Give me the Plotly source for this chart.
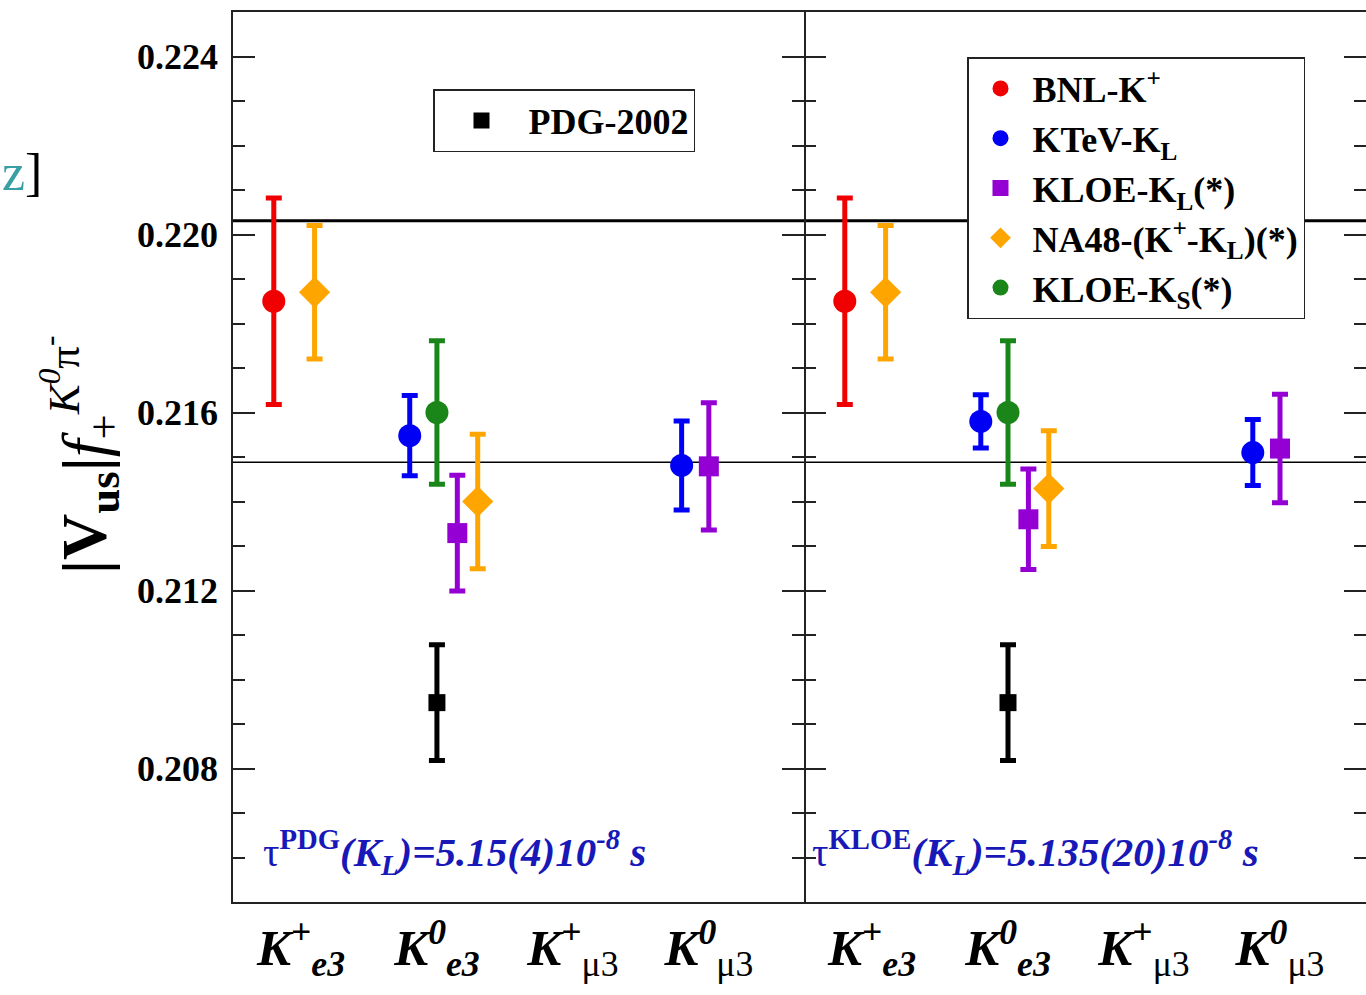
import plotly.graph_objects as go

# ---------------- data ----------------
cat_pos = [1, 2, 3, 4]
cat_labels = [
    "<b><i>K</i></b><sup><b>+</b></sup><sub><b><i>e3</i></b></sub>",
    "<b><i>K</i></b><sup><b><i>0</i></b></sup><sub><b><i>e3</i></b></sub>",
    "<b><i>K</i></b><sup><b>+</b></sup><sub>μ3</sub>",
    "<b><i>K</i></b><sup><b><i>0</i></b></sup><sub>μ3</sub>",
]
y_tick_vals = [0.208, 0.212, 0.216, 0.220, 0.224]
y_tick_text = ["0.208", "0.212", "0.216", "0.220", "0.224"]

# BNL-K+
bnl_x = [0.80]
bnl_y_pdg = [0.21850]
bnl_err_pdg = [0.00232]
bnl_y_kloe = [0.21850]
bnl_err_kloe = [0.00232]

# KTeV-KL
ktev_x = [1.80, 3.80]
ktev_y_pdg = [0.21548, 0.21481]
ktev_err_pdg = [0.00090, 0.00100]
ktev_y_kloe = [0.21580, 0.21510]
ktev_err_kloe = [0.00060, 0.00074]

# KLOE-KL(*)
kloel_x = [2.15, 4.00]
kloel_y_pdg = [0.21329, 0.21479]
kloel_err_pdg = [0.00130, 0.00143]
kloel_y_kloe = [0.21360, 0.21519]
kloel_err_kloe = [0.00113, 0.00122]

# NA48-(K+-KL)(*)
na48_x = [1.10, 2.30]
na48_y_pdg = [0.21870, 0.21400]
na48_err_pdg = [0.00150, 0.00151]
na48_y_kloe = [0.21870, 0.21429]
na48_err_kloe = [0.00150, 0.00130]

# KLOE-KS(*)
kloes_x = [2.00]
kloes_y_pdg = [0.21600]
kloes_err_pdg = [0.00161]
kloes_y_kloe = [0.21600]
kloes_err_kloe = [0.00161]

# PDG-2002
pdg_x = [2.00]
pdg_y = [0.20948]
pdg_err = [0.00130]

# horizontal reference lines
ref_line_high = 0.22031
ref_line_low = 0.21488

# ---------------- figure ----------------
W, H = 1366, 995
xl0, xm, xr = 233 / W, 804 / W, 1.0
ydom = [1 - 902 / H, 1 - 12 / H]
SERIF = "Liberation Serif"
AX = "#222222"

fig = go.Figure()

experiments = [
    ("<b>BNL-K<sup>+</sup></b>", "#F00000", "circle", 23, bnl_x,
     (bnl_y_pdg, bnl_err_pdg), (bnl_y_kloe, bnl_err_kloe)),
    ("<b>KTeV-K<sub>L</sub></b>", "#0000F5", "circle", 23, ktev_x,
     (ktev_y_pdg, ktev_err_pdg), (ktev_y_kloe, ktev_err_kloe)),
    ("<b>KLOE-K<sub>L</sub>(*)</b>", "#9400D3", "square", 20, kloel_x,
     (kloel_y_pdg, kloel_err_pdg), (kloel_y_kloe, kloel_err_kloe)),
    ("<b>NA48-(K<sup>+</sup>-K<sub>L</sub>)(*)</b>", "#FFA500", "diamond", 24, na48_x,
     (na48_y_pdg, na48_err_pdg), (na48_y_kloe, na48_err_kloe)),
    ("<b>KLOE-K<sub>S</sub>(*)</b>", "#1A861A", "circle", 23, kloes_x,
     (kloes_y_pdg, kloes_err_pdg), (kloes_y_kloe, kloes_err_kloe)),
]

for i, (name, color, sym, size, xs, pdgd, kloed) in enumerate(experiments):
    for (xa, ya, (ys, es), show) in [("x", "y", pdgd, False), ("x2", "y2", kloed, True)]:
        fig.add_trace(go.Scatter(
            x=xs, y=ys, mode="markers", name=name,
            marker=dict(color=color, symbol=sym, size=size, line=dict(width=0)),
            error_y=dict(type="data", array=es, color=color, thickness=5, width=8),
            xaxis=xa, yaxis=ya, showlegend=show, legendgroup="g%d" % i,
            legend="legend",
        ))

for xa, ya, show in [("x", "y", True), ("x2", "y2", False)]:
    fig.add_trace(go.Scatter(
        x=pdg_x, y=pdg_y, mode="markers", name="<b>PDG-2002</b>",
        marker=dict(color="black", symbol="square", size=17, line=dict(width=0)),
        error_y=dict(type="data", array=pdg_err, color="black", thickness=5, width=8),
        xaxis=xa, yaxis=ya, showlegend=show, legendgroup="pdg", legend="legend2",
    ))

# reference lines across both panels
fig.add_shape(type="line", xref="paper", yref="y", x0=xl0, x1=xr,
              y0=ref_line_high, y1=ref_line_high, line=dict(color="black", width=3), layer="below")
fig.add_shape(type="line", xref="paper", yref="y", x0=xl0, x1=xr,
              y0=ref_line_low, y1=ref_line_low, line=dict(color="black", width=1.5), layer="below")

yax_common = dict(
    range=[0.205, 0.225], tickmode="array", tickvals=y_tick_vals, ticktext=y_tick_text,
    ticks="inside", ticklen=22, tickwidth=1.5, tickcolor=AX,
    linecolor=AX, linewidth=1.5, mirror="ticks",
    showgrid=False, zeroline=False, domain=ydom,
    minor=dict(tickmode="linear", tick0=0.205, dtick=0.001, ticks="inside",
               ticklen=12, tickwidth=1.5, tickcolor=AX, showgrid=False),
)
xax_common = dict(
    tickmode="array", tickvals=cat_pos, ticktext=cat_labels, ticks="",
    showline=True, linecolor=AX, linewidth=1.5, mirror=True,
    showgrid=False, zeroline=False,
    tickfont=dict(family=SERIF, size=51, color="black"),
)

fig.update_layout(
    width=W, height=H, autosize=False,
    margin=dict(l=0, r=0, t=0, b=0),
    paper_bgcolor="white", plot_bgcolor="white",
    xaxis=dict(domain=[xl0, xm], range=[0.5, 4.7], anchor="y", **xax_common),
    xaxis2=dict(domain=[xm, xr], range=[0.5, 0.5 + 562 / 136], anchor="y2", **xax_common),
    yaxis=dict(anchor="x", showticklabels=True, ticklabelstandoff=6, showline=True,
               tickfont=dict(family=SERIF, size=36, color="black", weight="bold"),
               **yax_common),
    yaxis2=dict(anchor="x2", matches="y", showticklabels=False, showline=False, **yax_common),
    legend=dict(x=967 / W, y=1 - 57 / H, xanchor="left", yanchor="top",
                bgcolor="white", bordercolor=AX, borderwidth=1.5,
                font=dict(family=SERIF, size=36, color="black"),
                itemwidth=54, tracegroupgap=0, itemclick=False, itemdoubleclick=False),
    legend2=dict(x=433 / W, y=1 - 89 / H, xanchor="left", yanchor="top",
                 bgcolor="white", bordercolor=AX, borderwidth=1.5,
                 font=dict(family=SERIF, size=36, color="black"),
                 itemwidth=84, itemclick=False, itemdoubleclick=False),
    showlegend=True,
)

# y-axis title
fig.add_annotation(
    xref="paper", yref="paper", x=80 / W, y=1 - 455 / H, xanchor="center", yanchor="middle",
    text="<b>|V<sub>us</sub>|</b><i>f</i><sub>+</sub><sup><i>K</i><sup><i>0</i></sup>π<sup>-</sup></sup>",
    textangle=-90, showarrow=False,
    font=dict(family=SERIF, size=64, color="black"),
)

# lifetime annotations
BLUE = "#1818B8"
fig.add_annotation(
    xref="paper", yref="paper", x=261 / W, y=1 - 852 / H, xanchor="left", yanchor="middle",
    text="τ<sup><b>PDG</b></sup><b><i>(K<sub>L</sub>)=5.15(4)10<sup>-8</sup> s</i></b>",
    showarrow=False, font=dict(family=SERIF, size=41, color=BLUE),
)
fig.add_annotation(
    xref="paper", yref="paper", x=810 / W, y=1 - 852 / H, xanchor="left", yanchor="middle",
    text="τ<sup><b>KLOE</b></sup><b><i>(K<sub>L</sub>)=5.135(20)10<sup>-8</sup> s</i></b>",
    showarrow=False, font=dict(family=SERIF, size=41, color=BLUE),
)

# cropped fragment at top-left edge
fig.add_annotation(
    xref="paper", yref="paper", x=0, y=1 - 172 / H, xanchor="left", yanchor="middle",
    text="<span style='color:#3A9EA5'>z</span>]",
    showarrow=False, font=dict(family=SERIF, size=52, color="black"),
)

fig.write_html("out.html")
